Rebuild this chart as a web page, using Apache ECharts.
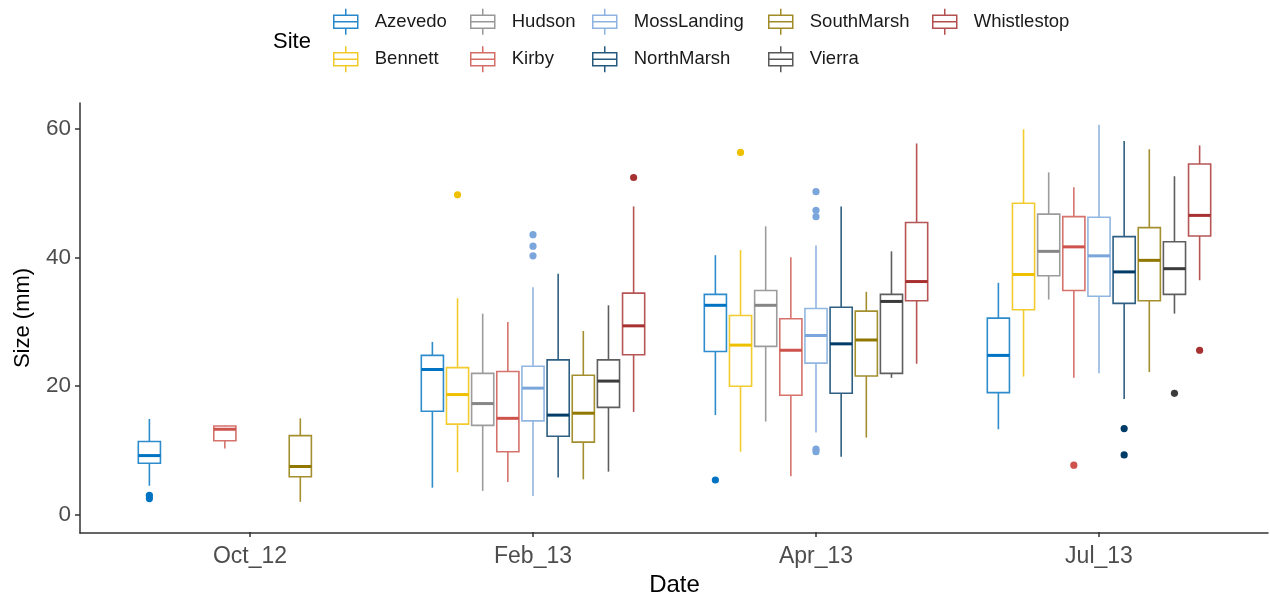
<!DOCTYPE html>
<html>
<head>
<meta charset="utf-8">
<script src="https://cdn.jsdelivr.net/npm/echarts@6/dist/echarts.min.js"></script>
<style>
html,body{margin:0;padding:0;background:#fff;}
#chart{width:1270px;height:602px;}
</style>
</head>
<body>
<div id="chart"></div>
<script>
// ---- Data ----
const dates = ['Oct_12', 'Feb_13', 'Apr_13', 'Jul_13'];
const sites = ['Azevedo', 'Bennett', 'Hudson', 'Kirby', 'MossLanding', 'NorthMarsh', 'SouthMarsh', 'Vierra', 'Whistlestop'];
const siteColors = ['#0073C2', '#EFC000', '#868686', '#CD534C', '#7AA6DC', '#003C67', '#8F7700', '#3B3B3B', '#A73030'];
const yTicks = [0, 20, 40, 60];

// box stats: [date, min, q1, median, q3, max]
const boxAzevedo = [['Oct_12', 4.4, 7.9, 9.1, 11.3, 14.8], ['Feb_13', 4.1, 16.0, 22.5, 24.7, 26.8], ['Apr_13', 15.4, 25.3, 32.5, 34.2, 40.3], ['Jul_13', 13.2, 18.9, 24.7, 30.5, 36.0]];
const boxBennett = [['Feb_13', 6.5, 14.0, 18.6, 22.8, 33.6], ['Apr_13', 9.7, 19.9, 26.3, 30.9, 41.1], ['Jul_13', 21.4, 31.8, 37.3, 48.4, 59.9]];
const boxHudson = [['Feb_13', 3.6, 13.8, 17.2, 21.9, 31.2], ['Apr_13', 14.4, 26.1, 32.5, 34.8, 44.8], ['Jul_13', 33.4, 37.1, 40.9, 46.7, 53.2]];
const boxKirby = [['Oct_12', 10.2, 11.4, 13.2, 13.7, 13.8], ['Feb_13', 5.0, 9.7, 14.9, 22.2, 29.9], ['Apr_13', 5.9, 18.5, 25.5, 30.4, 40.0], ['Jul_13', 21.2, 34.8, 41.6, 46.3, 50.9]];
const boxMossLanding = [['Feb_13', 2.8, 14.5, 19.6, 23.0, 35.3], ['Apr_13', 12.7, 23.5, 27.8, 32.0, 41.8], ['Jul_13', 21.9, 33.9, 40.2, 46.2, 60.6]];
const boxNorthMarsh = [['Feb_13', 5.7, 12.1, 15.4, 24.0, 37.4], ['Apr_13', 8.9, 18.8, 26.5, 32.2, 47.9], ['Jul_13', 17.9, 32.8, 37.7, 43.2, 58.1]];
const boxSouthMarsh = [['Oct_12', 1.9, 5.8, 7.4, 12.2, 14.9], ['Feb_13', 5.4, 11.2, 15.7, 21.6, 28.5], ['Apr_13', 11.9, 21.5, 27.1, 31.6, 34.6], ['Jul_13', 22.1, 33.2, 39.5, 44.6, 56.8]];
const boxVierra = [['Feb_13', 6.6, 16.6, 20.7, 24.0, 32.5], ['Apr_13', 21.2, 21.9, 33.1, 34.2, 40.9], ['Jul_13', 31.2, 34.2, 38.2, 42.4, 52.6]];
const boxWhistlestop = [['Feb_13', 15.9, 24.8, 29.3, 34.4, 47.9], ['Apr_13', 23.4, 33.2, 36.2, 45.4, 57.7], ['Jul_13', 36.4, 43.3, 46.5, 54.5, 57.4]];

// outliers: [date, value]
const outAzevedo = [['Oct_12', 2.9], ['Oct_12', 2.4], ['Apr_13', 5.3]];
const outBennett = [['Feb_13', 49.7], ['Apr_13', 56.3]];
const outHudson = [];
const outKirby = [['Jul_13', 7.6]];
const outMossLanding = [['Feb_13', 43.5], ['Feb_13', 41.7], ['Feb_13', 40.2], ['Apr_13', 50.2], ['Apr_13', 47.3], ['Apr_13', 46.3], ['Apr_13', 10.1], ['Apr_13', 9.7]];
const outNorthMarsh = [['Jul_13', 13.3], ['Jul_13', 9.2]];
const outSouthMarsh = [];
const outVierra = [['Jul_13', 18.8]];
const outWhistlestop = [['Feb_13', 52.4], ['Jul_13', 25.5]];

const boxData = [boxAzevedo, boxBennett, boxHudson, boxKirby, boxMossLanding, boxNorthMarsh, boxSouthMarsh, boxVierra, boxWhistlestop];
const outData = [outAzevedo, outBennett, outHudson, outKirby, outMossLanding, outNorthMarsh, outSouthMarsh, outVierra, outWhistlestop];

// ---- Chart ----
const FONT = 'Liberation Sans, Arial, sans-serif';
const chart = echarts.init(document.getElementById('chart'), null, {renderer: 'canvas'});

function lighten(hex, t) {
  const n = parseInt(hex.slice(1), 16);
  const r = (n >> 16) & 255, g = (n >> 8) & 255, b = n & 255;
  const f = function (v) { return Math.round(v + (255 - v) * t); };
  return 'rgb(' + f(r) + ',' + f(g) + ',' + f(b) + ')';
}

function slotGeom(api, idx) {
  const band = api.size([1, 0])[0];
  const slot = band * 0.8 / sites.length;
  return {off: (idx - (sites.length - 1) / 2) * slot, w: slot * 0.88};
}

const series = [];
sites.forEach(function (name, idx) {
  const color = siteColors[idx];
  const lineColor = lighten(color, 0.18);
  series.push({
    name: name,
    type: 'custom',
    xAxisIndex: 1,
    yAxisIndex: 1,
    itemStyle: {color: color, borderColor: color},
    encode: {x: 0, y: [1, 2, 3, 4, 5]},
    data: boxData[idx].map(function (r) { return [dates.indexOf(r[0]), r[1], r[2], r[3], r[4], r[5]]; }),
    renderItem: function (params, api) {
      const c = api.value(0);
      const g = slotGeom(api, idx);
      const pMin = api.coord([c, api.value(1)]);
      const pQ1 = api.coord([c, api.value(2)]);
      const pMed = api.coord([c, api.value(3)]);
      const pQ3 = api.coord([c, api.value(4)]);
      const pMax = api.coord([c, api.value(5)]);
      const x = pMin[0] + g.off;
      const lw = 1.6;
      return {
        type: 'group',
        children: [
          {type: 'line', shape: {x1: x, y1: pMax[1], x2: x, y2: pQ3[1]}, style: {stroke: lineColor, lineWidth: lw}},
          {type: 'line', shape: {x1: x, y1: pQ1[1], x2: x, y2: pMin[1]}, style: {stroke: lineColor, lineWidth: lw}},
          {type: 'rect', shape: {x: x - g.w / 2, y: pQ3[1], width: g.w, height: pQ1[1] - pQ3[1]}, style: {fill: '#fff', stroke: lineColor, lineWidth: lw}},
          {type: 'line', shape: {x1: x - g.w / 2, y1: pMed[1], x2: x + g.w / 2, y2: pMed[1]}, style: {stroke: color, lineWidth: 3}}
        ]
      };
    },
    z: 2
  });
  series.push({
    name: name,
    type: 'custom',
    xAxisIndex: 1,
    yAxisIndex: 1,
    itemStyle: {color: color},
    encode: {x: 0, y: 1},
    data: outData[idx].map(function (r) { return [dates.indexOf(r[0]), r[1]]; }),
    renderItem: function (params, api) {
      const g = slotGeom(api, idx);
      const p = api.coord([api.value(0), api.value(1)]);
      return {type: 'circle', shape: {cx: p[0] + g.off, cy: p[1], r: 3.6}, style: {fill: color}};
    },
    z: 3
  });
});

const legendIcon = 'path://M13,0 L13,6.5 M13,19.5 L13,26 M1,6.5 L25,6.5 L25,19.5 L1,19.5 Z M1,13 L25,13';
const legendCols = [[0, 1], [2, 3], [4, 5], [6, 7], [8]];
const legendLefts = [333, 470, 592, 768, 932];
const legends = legendCols.map(function (col, i) {
  return {
    orient: 'vertical',
    left: legendLefts[i],
    top: 8,
    padding: 0,
    itemWidth: 26,
    itemHeight: 26,
    itemGap: 10,
    icon: legendIcon,
    selectedMode: false,
    textStyle: {fontSize: 18.5, color: '#1a1a1a', fontFamily: FONT, padding: [0, 0, 0, 11]},
    data: col.map(function (k) {
      return {name: sites[k], itemStyle: {color: 'rgba(0,0,0,0)', borderColor: lighten(siteColors[k], 0.15), borderWidth: 1.5}};
    })
  };
});

const option = {
  backgroundColor: '#fff',
  animation: false,
  title: {text: 'Site', left: 268, top: 26, textStyle: {fontSize: 22, fontWeight: 'normal', color: '#000', fontFamily: FONT}},
  legend: legends,
  grid: [
    {left: 80, right: 2, top: 103, bottom: 69},
    {left: 108.5, right: 29.5, top: 103, bottom: 69}
  ],
  xAxis: [
    {type: 'value', gridIndex: 0, min: 0, max: 1, axisLine: {show: true, onZero: false, lineStyle: {color: '#333', width: 1.5}}, axisTick: {show: false}, axisLabel: {show: false}, splitLine: {show: false}},
    {type: 'category', gridIndex: 1, data: dates, boundaryGap: true,
      name: 'Date', nameLocation: 'middle', nameGap: 41,
      nameTextStyle: {fontSize: 24, color: '#000', fontFamily: FONT},
      axisLine: {show: false, onZero: false},
      axisTick: {show: true, alignWithLabel: true, length: 5, lineStyle: {color: '#333', width: 1.5}},
      axisLabel: {fontSize: 23, color: '#4d4d4d', fontFamily: FONT, margin: 13},
      splitLine: {show: false}}
  ],
  yAxis: [
    {type: 'value', gridIndex: 0, min: -2.8, max: 64,
      name: 'Size (mm)', nameLocation: 'middle', nameGap: 46, nameRotate: 90,
      nameTextStyle: {fontSize: 22, color: '#000', fontFamily: FONT},
      axisLine: {show: true, onZero: false, lineStyle: {color: '#333', width: 1.5}},
      axisTick: {show: true, length: 5, lineStyle: {color: '#333', width: 1.5}, customValues: yTicks},
      axisLabel: {fontSize: 22.5, color: '#4d4d4d', fontFamily: FONT, margin: 9, customValues: yTicks},
      splitLine: {show: false}},
    {type: 'value', gridIndex: 1, min: -2.8, max: 64, show: false, splitLine: {show: false}}
  ],
  series: series
};
chart.setOption(option);
</script>
</body>
</html>
